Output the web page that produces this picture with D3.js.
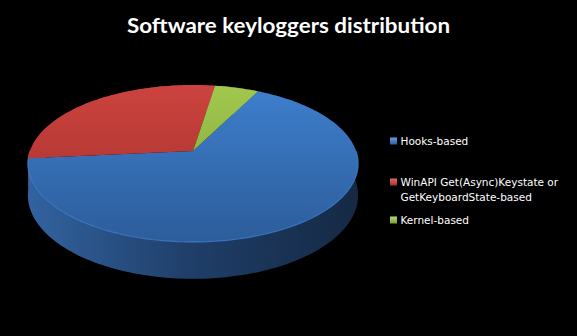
<!DOCTYPE html>
<html>
<head>
<meta charset="utf-8">
<script src="https://cdn.jsdelivr.net/npm/d3@7"></script>
<style>
  html, body { margin: 0; padding: 0; background: #000; overflow: hidden; }
</style>
</head>
<body>
<svg width="577" height="336"></svg>
<script>
// chart data
var chartTitle = "Software keyloggers distribution";
var categories = ["Hooks-based", "WinAPI Get(Async)Keystate or GetKeyboardState-based", "Kernel-based"];
var values = [66, 29, 5];

// styles
var topColors = [["#3e7fcd", "#2c5c9a"], ["#cc433e", "#a02e2b"], ["#a2c84e", "#7a9e37"]];
var sideColors = [["#3263a0", "#1f3e68", "#152944"], ["#a8322f", "#7c2321", "#5a1917"], ["#85a93f", "#63802d", "#4a6121"]];
var markerColors = [["#6b9be0", "#2f5fa0"], ["#e06a66", "#a3302d"], ["#b9d873", "#7a9e37"]];

function main() {
    var svg = d3.select("svg");
    var defs = svg.append("defs");

    // pseudo-3d projection of the pie disc (angle clockwise from the far point)
    var cx = 193, cy = 151, R = 163, S = 76.5, k = 0.159, D = 31;
    function proj(a, z) {
        var u = Math.sin(a), v = Math.cos(a), w = 1 + k * v;
        return [cx + R * u / w, cy - S * v / w + D * z / w];
    }
    function arcPts(a0, a1, z) {
        var n = Math.max(2, Math.ceil(Math.abs(a1 - a0) / 0.02)), pts = [];
        for (var i = 0; i <= n; i++) pts.push(proj(a0 + (a1 - a0) * i / n, z));
        return pts;
    }
    var line = d3.line();

    // gradients
    categories.forEach(function(c, i) {
        var g = defs.append("linearGradient").attr("id", "top" + i)
            .attr("gradientUnits", "userSpaceOnUse")
            .attr("x1", 0).attr("y1", 85).attr("x2", 0).attr("y2", 245);
        g.append("stop").attr("offset", 0).attr("stop-color", topColors[i][0]);
        g.append("stop").attr("offset", 1).attr("stop-color", topColors[i][1]);

        var s = defs.append("linearGradient").attr("id", "side" + i)
            .attr("gradientUnits", "userSpaceOnUse")
            .attr("x1", 27).attr("y1", 0).attr("x2", 358).attr("y2", 0);
        s.append("stop").attr("offset", 0).attr("stop-color", sideColors[i][0]);
        s.append("stop").attr("offset", 0.5).attr("stop-color", sideColors[i][1]);
        s.append("stop").attr("offset", 1).attr("stop-color", sideColors[i][2]);

        var m = defs.append("linearGradient").attr("id", "mark" + i)
            .attr("x1", 0).attr("y1", 0).attr("x2", 0).attr("y2", 1);
        m.append("stop").attr("offset", 0).attr("stop-color", markerColors[i][0]);
        m.append("stop").attr("offset", 1).attr("stop-color", markerColors[i][1]);
    });

    // title
    svg.append("text")
        .attr("x", 288.5)
        .attr("y", 33)
        .attr("text-anchor", "middle")
        .attr("font-family", "Lato, 'Open Sans', sans-serif")
        .attr("font-weight", "bold")
        .attr("font-size", "21px")
        .attr("fill", "#fff")
        .attr("textLength", 323)
        .attr("lengthAdjust", "spacingAndGlyphs")
        .text(chartTitle);

    var pie = d3.pie().sort(null).startAngle(27 * Math.PI / 180).endAngle(27 * Math.PI / 180 + 2 * Math.PI);
    var arcs = pie(values);

    var g = svg.append("g");

    // outer walls, far ones first
    var walls = arcs.slice().sort(function(a, b) {
        return Math.cos((b.startAngle + b.endAngle) / 2) - Math.cos((a.startAngle + a.endAngle) / 2);
    });
    g.selectAll(".wall")
        .data(walls)
        .enter().append("path")
        .attr("class", "wall")
        .attr("fill", function(d) { return "url(#side" + d.index + ")"; })
        .attr("d", function(d) {
            var pts = arcPts(d.startAngle, d.endAngle, 0).concat(arcPts(d.endAngle, d.startAngle, 1));
            return line(pts) + "Z";
        });

    // top faces
    g.selectAll(".slice")
        .data(arcs)
        .enter().append("path")
        .attr("class", "slice")
        .attr("fill", function(d) { return "url(#top" + d.index + ")"; })
        .attr("d", function(d) {
            return line([[cx, cy]].concat(arcPts(d.startAngle, d.endAngle, 0))) + "Z";
        });

    // soft highlight on the front rim
    g.selectAll(".rim")
        .data(arcs)
        .enter().append("path")
        .attr("class", "rim")
        .attr("fill", "none")
        .attr("stroke", function(d) { return topColors[d.index][0]; })
        .attr("stroke-opacity", 0.8)
        .attr("stroke-width", 1.2)
        .attr("d", function(d) {
            var a0 = Math.max(d.startAngle, Math.PI / 2), a1 = Math.min(d.endAngle, 3 * Math.PI / 2);
            return a1 > a0 ? line(arcPts(a0, a1, 0)) : null;
        });

    // legend
    var legendX = 390, legendRows = [141, 182, 220], lineH = 15.5, maxW = 170;
    var legend = svg.append("g");
    categories.forEach(function(c, i) {
        legend.append("rect")
            .attr("x", legendX)
            .attr("y", legendRows[i] - 3.5)
            .attr("width", 7)
            .attr("height", 7)
            .attr("fill", "url(#mark" + i + ")");
        var t = legend.append("text")
            .attr("x", legendX + 10.5)
            .attr("y", legendRows[i])
            .attr("dy", "0.35em")
            .attr("font-family", "'DejaVu Sans', sans-serif")
            .attr("font-size", "10.5px")
            .attr("fill", "#fff");
        // word wrap
        var words = c.split(" "), cur = [];
        var ts = t.append("tspan").attr("x", legendX + 10.5);
        words.forEach(function(w) {
            cur.push(w);
            ts.text(cur.join(" "));
            if (ts.node().getComputedTextLength() > maxW && cur.length > 1) {
                cur.pop();
                ts.text(cur.join(" "));
                cur = [w];
                ts = t.append("tspan").attr("x", legendX + 10.5).attr("dy", lineH).text(w);
            }
        });
    });
}
main();
</script>
</body>
</html>
